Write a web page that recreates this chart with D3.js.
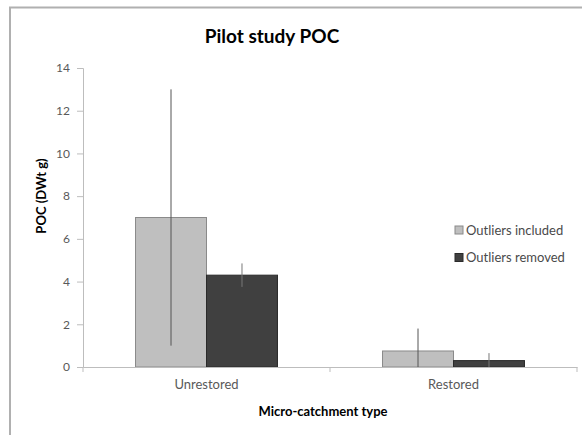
<!DOCTYPE html>
<html><head><meta charset="utf-8">
<script src="https://cdn.jsdelivr.net/npm/d3@7"></script>
<style>body{margin:0;background:#fff;}svg{display:block;font-family:Lato,"Open Sans",sans-serif;}</style>
</head><body>
<svg id="chart" width="582" height="435"></svg>
<script>
const categories = ["Unrestored", "Restored"];
const seriesNames = ["Outliers included", "Outliers removed"];
const includedValues = [7.0, 0.75];
const includedErrors = [6.0, 1.05];
const removedValues = [4.3, 0.3];
const removedErrors = [0.55, 0.35];
const yTicks = [0, 2, 4, 6, 8, 10, 12, 14];
const colors = ["#bfbfbf", "#404040"];
const strokes = ["#8a8a8a", "#2a2a2a"];

(function () {
const svg = d3.select("#chart");
// outer frame
svg.append("rect").attr("x", 10).attr("y", 7.5).attr("width", 580).attr("height", 440)
  .attr("fill", "#fff").attr("stroke", "#b0b0b0").attr("stroke-width", 2);

const pLeft = 83, pRight = 577, pTop = 68, pBottom = 367;
const y = d3.scaleLinear().domain([0, 14]).range([pBottom, pTop]);
const x = d3.scaleBand().domain(categories).range([pLeft, pRight]).padding(0);
const x1 = d3.scaleBand().domain(seriesNames).range([0, x.bandwidth()]).paddingInner(0).paddingOuter(0.74);

const data = categories.map((c, i) => ({
  cat: c,
  vals: [
    {s: seriesNames[0], v: includedValues[i], e: includedErrors[i], k: 0},
    {s: seriesNames[1], v: removedValues[i], e: removedErrors[i], k: 1}
  ]
}));

// y axis
const yAxis = svg.append("g").attr("transform", `translate(${pLeft},0)`)
  .call(d3.axisLeft(y).tickValues(yTicks).tickSize(6).tickPadding(7));
yAxis.select(".domain").attr("stroke", "#bdbdbd");
yAxis.selectAll(".tick line").attr("stroke", "#bdbdbd");
yAxis.selectAll(".tick text").attr("fill", "#595959").style("font-size", "12px").style("font-family", "Lato, sans-serif");

// bars
const groups = svg.append("g").selectAll("g").data(data).join("g")
  .attr("transform", d => `translate(${x(d.cat)},0)`);
groups.selectAll("rect").data(d => d.vals).join("rect")
  .attr("x", d => x1(d.s)).attr("width", x1.bandwidth())
  .attr("y", d => y(d.v)).attr("height", d => y(0) - y(d.v))
  .attr("fill", d => colors[d.k]).attr("stroke", d => strokes[d.k]).attr("stroke-width", 1);
// error bars
groups.selectAll("line.err").data(d => d.vals).join("line").attr("class", "err")
  .attr("x1", d => x1(d.s) + x1.bandwidth() / 2).attr("x2", d => x1(d.s) + x1.bandwidth() / 2)
  .attr("y1", d => y(Math.max(0, d.v - d.e))).attr("y2", d => y(d.v + d.e))
  .attr("stroke", d => d.k === 0 ? "#555" : "#777").attr("stroke-width", 1);

// x axis
const xAxis = svg.append("g").attr("transform", `translate(0,${pBottom})`)
  .call(d3.axisBottom(x).tickSize(0).tickPadding(13));
xAxis.select(".domain").attr("stroke", "#bdbdbd");
xAxis.selectAll(".tick text").attr("fill", "#595959").style("font-size", "13px").style("font-family", "Lato, sans-serif");
// category boundary ticks
const bounds = [pLeft, ...categories.slice(1).map(c => x(c)), pRight];
svg.append("g").selectAll("line").data(bounds).join("line")
  .attr("x1", d => d).attr("x2", d => d).attr("y1", pBottom).attr("y2", pBottom + 5)
  .attr("stroke", "#bdbdbd");

// title
svg.append("text").attr("x", 272).attr("y", 43).attr("text-anchor", "middle")
  .style("font-size", "19px").style("font-weight", "bold").attr("fill", "#000").text("Pilot study POC");
// y label
svg.append("text").attr("transform", "translate(46,196) rotate(-90)").attr("text-anchor", "middle")
  .style("font-size", "13px").style("font-weight", "bold").attr("fill", "#000").text("POC (DWt g)");
// x label
svg.append("text").attr("x", 323).attr("y", 416).attr("text-anchor", "middle")
  .style("font-size", "13px").style("font-weight", "bold").attr("fill", "#000").text("Micro-catchment type");

// legend
const leg = svg.append("g").attr("transform", "translate(455,230)");
seriesNames.forEach((s, i) => {
  const g = leg.append("g").attr("transform", `translate(0,${i * 27.5})`);
  g.append("rect").attr("x", 0).attr("y", -4).attr("width", 8).attr("height", 8)
    .attr("fill", colors[i]).attr("stroke", strokes[i]);
  g.append("text").attr("x", 11).attr("y", 4.5).style("font-size", "13px").attr("fill", "#4a4a4a").text(s);
});
})();
</script>
</body></html>
